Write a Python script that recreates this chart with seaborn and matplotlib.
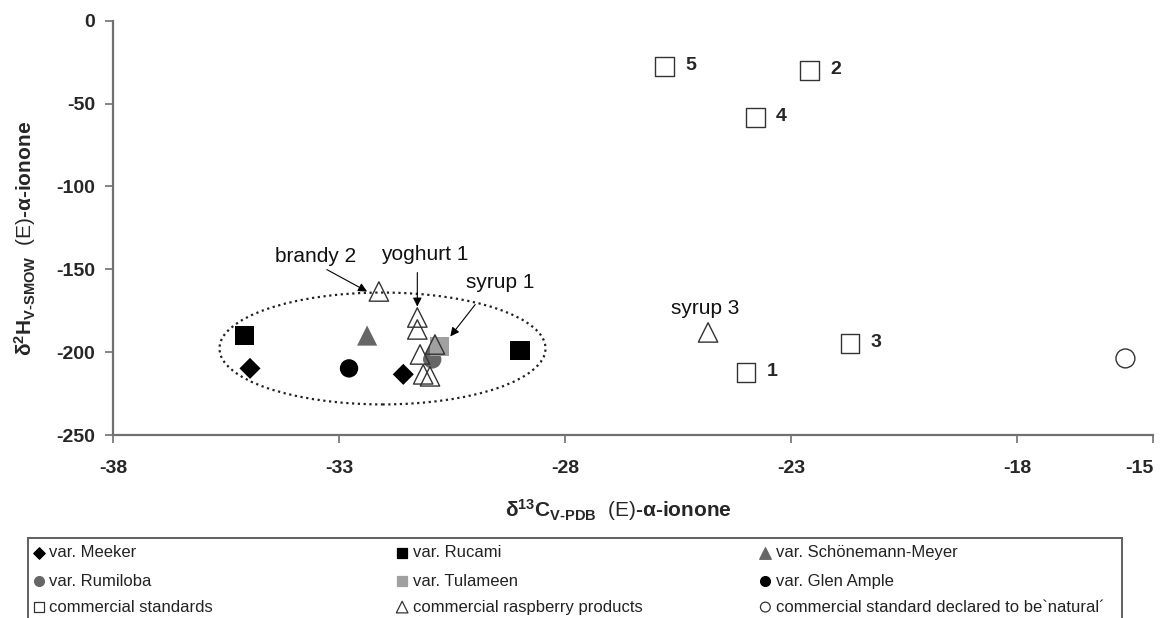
"""
δ13C / δ2H of (E)-α-ionone: raspberry varieties vs. commercial samples
"""

import numpy as np
import pandas as pd
import matplotlib
matplotlib.use("Agg")
import matplotlib.pyplot as plt
from matplotlib.patches import Ellipse
import seaborn as sns

# --- data ---------------------------------------------------------------
meeker_x = [-34.97, -31.58]
meeker_y = [-209.8, -213.4]
rucami_x = [-35.10, -29.00]
rucami_y = [-190.0, -199.0]
schoenemann_x = [-32.38, -30.88]
schoenemann_y = [-190.0, -195.4]
rumiloba_x = [-30.94]
rumiloba_y = [-204.4]
tulameen_x = [-30.77]
tulameen_y = [-196.6]
glen_ample_x = [-32.78]
glen_ample_y = [-209.8]
standards_x = [-24.0, -22.6, -21.7, -23.8, -25.81]
standards_y = [-212.3, -30.3, -194.8, -58.6, -27.9]
standards_labels = ["1", "2", "3", "4", "5"]
products_x = [-32.12, -31.27, -31.27, -30.88, -31.21, -31.14, -30.99, -24.84]
products_y = [-163.4, -179.1, -186.3, -195.4, -201.4, -213.4, -214.6, -188.1]
natural_x = [-15.61]
natural_y = [-203.8]

x_ticks = [-38, -33, -28, -23, -18, -15]
y_ticks = [0, -50, -100, -150, -200, -250]

# group name, x, y, marker, face, edge, size (main), size (legend)
groupes = [
    ("var. Meeker", meeker_x, meeker_y, "D", "#000000", "none", 115, 34),
    ("var. Rucami", rucami_x, rucami_y, "s", "#000000", "none", 190, 55),
    ("var. Schönemann-Meyer", schoenemann_x, schoenemann_y, "^", "#666666", "none", 210, 70),
    ("var. Rumiloba", rumiloba_x, rumiloba_y, "o", "#666666", "none", 175, 50),
    ("var. Tulameen", tulameen_x, tulameen_y, "s", "#a0a0a0", "none", 190, 55),
    ("var. Glen Ample", glen_ample_x, glen_ample_y, "o", "#000000", "none", 175, 50),
    ("commercial standards", standards_x, standards_y, "s", "none", "#333333", 185, 55),
    ("commercial raspberry products", products_x, products_y, "^", "none", "#333333", 195, 70),
    ("commercial standard declared to be`natural´", natural_x, natural_y, "o", "none", "#333333", 185, 50),
]

lignes = []
for nom, xs, ys, *_ in groupes:
    for x, y in zip(xs, ys):
        lignes.append({"x": x, "y": y, "groupe": nom})
df = pd.DataFrame(lignes)

# --- style ----------------------------------------------------------------
sns.set_theme(style="white")
plt.rcParams["font.family"] = ["Liberation Sans", "DejaVu Sans"]
plt.rcParams["mathtext.fontset"] = "custom"
plt.rcParams["mathtext.rm"] = "Liberation Sans"
plt.rcParams["mathtext.bf"] = "Liberation Sans:bold"
plt.rcParams["mathtext.it"] = "Liberation Sans:italic"

fig = plt.figure(figsize=(11.62, 6.18), dpi=100)
ax = fig.add_axes([113 / 1162, 183 / 618, 1040 / 1162, 414.3 / 618])

# ellipse around the raspberry varieties
ax.add_patch(Ellipse((-32.04, -197.8), 7.21, 67.5, fill=False,
                     edgecolor="#222222", linestyle=(0, (1, 1.6)), lw=1.6, zorder=1))

for nom, xs, ys, marker, face, edge, taille, _ in groupes:
    sous = df[df["groupe"] == nom]
    sns.scatterplot(data=sous, x="x", y="y", ax=ax, marker=marker, s=taille,
                    color=face, edgecolor=edge, linewidth=1.0, legend=False, zorder=3)

# numbers of the commercial standards
for x, y, lab in zip(standards_x, standards_y, standards_labels):
    ax.annotate(lab, (x, y), xytext=(15, 1), textcoords="offset points",
                ha="left", va="center", fontsize=14, fontweight="bold")

# labelled products with arrows
fleche = dict(arrowstyle="-|>", color="black", lw=0.8, mutation_scale=13,
              shrinkA=0, shrinkB=0)
txt = dict(ha="center", va="center", fontsize=15, color="#111111")
ax.text(-33.53, -142.4, "brandy 2", **txt)
ax.annotate("", xy=(-32.38, -163.4), xytext=(-33.27, -150.2), arrowprops=fleche)
ax.text(-31.10, -141.1, "yoghurt 1", **txt)
ax.annotate("", xy=(-31.27, -172.5), xytext=(-31.27, -152.0), arrowprops=fleche)
ax.text(-29.44, -158.0, "syrup 1", **txt)
ax.annotate("", xy=(-30.54, -190.5), xytext=(-29.99, -171.3), arrowprops=fleche)
ax.text(-24.90, -173.7, "syrup 3", **txt)

# axes
ax.set_xlim(-38, -15)
ax.set_ylim(-250, 0)
ax.set_xticks(x_ticks)
ax.set_yticks(y_ticks)
ax.set_xticklabels([str(t) for t in x_ticks], fontsize=14, fontweight="bold")
ax.set_yticklabels([str(t) for t in y_ticks], fontsize=14, fontweight="bold")
ax.get_xticklabels()[-1].set_ha("right")
for cote in ["top", "right"]:
    ax.spines[cote].set_visible(False)
for cote in ["left", "bottom"]:
    ax.spines[cote].set_color("#707070")
    ax.spines[cote].set_linewidth(1.6)
ax.tick_params(axis="x", direction="out", length=6, width=1.2, color="#707070",
               pad=12, bottom=True)
ax.tick_params(axis="y", direction="out", length=6, width=1.2, color="#707070",
               pad=7, left=True)

ax.set_xlabel("δ$^{\\mathbf{13}}$C$_{\\mathbf{V\u2010PDB}}$  $\\mathrm{(E)}$-α-ionone",
              fontsize=15, fontweight="bold")
ax.xaxis.set_label_coords(0.486, -0.18)
ax.xaxis.label.set_va("center")
ax.set_ylabel("δ$^{\\mathbf{2}}$H$_{\\mathbf{V\u2010SMOW}}$  $\\mathrm{(E)}$-α-ionone",
              fontsize=15, fontweight="bold")
ax.yaxis.set_label_coords(-0.085, 0.475)
ax.yaxis.label.set_va("center")

# --- legend box below the plot (3 x 3 grid) -------------------------------
lax = fig.add_axes([28 / 1162, -0.03, 1094 / 1162, 80 / 618 + 0.03])
lax.set_xlim(0, 1)
lax.set_ylim(0, 1)
lax.set_xticks([])
lax.set_yticks([])
for sp in lax.spines.values():
    sp.set_color("#606060")
    sp.set_linewidth(1.4)
col_x = [0.010, 0.342, 0.674]
row_y = [0.848, 0.563, 0.299]
for i, (nom, xs, ys, marker, face, edge, _, taille_leg) in enumerate(groupes):
    r, c = divmod(i, 3)
    lax.scatter([col_x[c]], [row_y[r]], marker=marker, s=taille_leg,
                facecolor=face, edgecolor=edge if edge != "none" else face,
                linewidth=0.9, clip_on=False)
    lax.text(col_x[c] + 0.0095, row_y[r], nom, ha="left", va="center",
             fontsize=12, color="#222222")

fig.savefig("out.png", dpi=100)
plt.close(fig)
